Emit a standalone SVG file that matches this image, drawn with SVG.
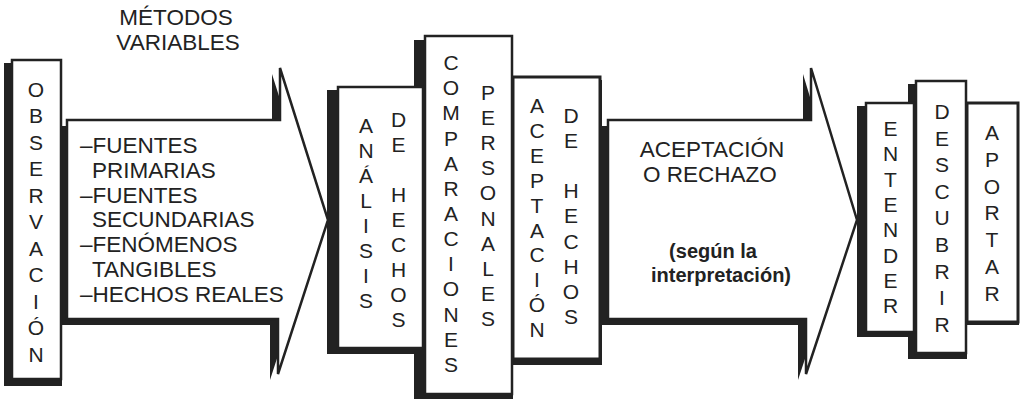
<svg xmlns="http://www.w3.org/2000/svg" width="1023" height="402" viewBox="0 0 1023 402">
<style>
.box{fill:#fff;stroke:#222;stroke-width:2.5}
.sh{fill:#222}
.col{font-family:"Liberation Sans",Arial,sans-serif;font-size:21px;fill:#222;text-anchor:middle}
.lbl{font-family:"Liberation Sans",Arial,sans-serif;font-size:22.5px;fill:#222}
.bld{font-family:"Liberation Sans",Arial,sans-serif;font-size:20px;font-weight:bold;fill:#222;text-anchor:middle}
</style>
<defs>
<polygon id="arrow1shape" points="67,120 280,120 280,68 328,220 278,374 278,319 67,319"/>
<polygon id="arrow2shape" points="608,120 811,120 811,68 857,220 806,374 806,319 608,319"/>
</defs>
<rect width="1023" height="402" fill="#fff"/>

<g id="heading">
<text class="lbl" x="176" y="25" text-anchor="middle">MÉTODOS</text>
<text class="lbl" x="178" y="50" text-anchor="middle">VARIABLES</text>
</g>

<g id="connectors">
<g id="arrow1">
<use href="#arrow1shape" class="sh" transform="translate(-8,6)"/>
<use href="#arrow1shape" class="box"/>
<text class="lbl"><tspan x="80" y="153">–FUENTES</tspan><tspan x="92" y="177.8">PRIMARIAS</tspan><tspan x="80" y="202.6">–FUENTES</tspan><tspan x="92" y="227.4">SECUNDARIAS</tspan><tspan x="80" y="252.2">–FENÓMENOS</tspan><tspan x="92" y="277">TANGIBLES</tspan><tspan x="80" y="301.8">–HECHOS REALES</tspan></text>
</g>
<g id="arrow2">
<use href="#arrow2shape" class="sh" transform="translate(-8,6)"/>
<use href="#arrow2shape" class="box"/>
<text class="lbl" x="712" y="157" text-anchor="middle">ACEPTACIÓN</text>
<text class="lbl" x="710" y="182" text-anchor="middle">O RECHAZO</text>
<text class="bld" x="713" y="258">(según la</text>
<text class="bld" x="721" y="282">interpretación)</text>
</g>
</g>

<g id="observacion">
<rect class="sh" x="4" y="63" width="58" height="323"/>
<rect class="box" x="12" y="60" width="49" height="319"/>
<text class="col"><tspan x="36" y="96.5">O</tspan><tspan x="36" y="123">B</tspan><tspan x="36" y="149.6">S</tspan><tspan x="36" y="176.1">E</tspan><tspan x="36" y="202.7">R</tspan><tspan x="36" y="229.2">V</tspan><tspan x="36" y="255.8">A</tspan><tspan x="36" y="282.3">C</tspan><tspan x="36" y="308.9">I</tspan><tspan x="36" y="335.4">Ó</tspan><tspan x="36" y="362">N</tspan></text>
</g>

<g id="aceptacion-hechos">
<rect class="sh" x="503" y="80" width="99" height="285"/>
<rect class="box" x="513" y="77" width="87" height="282" style="stroke-width:3"/>
<text class="col"><tspan x="537" y="113">A</tspan><tspan x="537" y="137.9">C</tspan><tspan x="537" y="162.8">E</tspan><tspan x="537" y="187.7">P</tspan><tspan x="537" y="212.6">T</tspan><tspan x="537" y="237.5">A</tspan><tspan x="537" y="262.4">C</tspan><tspan x="537" y="287.3">I</tspan><tspan x="537" y="312.2">Ó</tspan><tspan x="537" y="337.1">N</tspan></text>
<text class="col"><tspan x="571" y="123">D</tspan><tspan x="571" y="148.1">E</tspan><tspan x="571" y="198.3">H</tspan><tspan x="571" y="223.4">E</tspan><tspan x="571" y="248.5">C</tspan><tspan x="571" y="273.6">H</tspan><tspan x="571" y="298.7">O</tspan><tspan x="571" y="323.8">S</tspan></text>
</g>

<g id="comparaciones">
<rect class="sh" x="414" y="40" width="99" height="359"/>
<rect class="box" x="425" y="36" width="87" height="358"/>
<text class="col"><tspan x="451" y="70">C</tspan><tspan x="451" y="95.2">O</tspan><tspan x="451" y="120.3">M</tspan><tspan x="451" y="145.5">P</tspan><tspan x="451" y="170.6">A</tspan><tspan x="451" y="195.8">R</tspan><tspan x="451" y="220.9">A</tspan><tspan x="451" y="246.1">C</tspan><tspan x="451" y="271.2">I</tspan><tspan x="451" y="296.4">O</tspan><tspan x="451" y="321.5">N</tspan><tspan x="451" y="346.7">E</tspan><tspan x="451" y="371.8">S</tspan></text>
<text class="col"><tspan x="488" y="100">P</tspan><tspan x="488" y="125.1">E</tspan><tspan x="488" y="150.2">R</tspan><tspan x="488" y="175.3">S</tspan><tspan x="488" y="200.4">O</tspan><tspan x="488" y="225.5">N</tspan><tspan x="488" y="250.6">A</tspan><tspan x="488" y="275.7">L</tspan><tspan x="488" y="300.8">E</tspan><tspan x="488" y="325.9">S</tspan></text>
</g>

<g id="analisis-hechos">
<rect class="sh" x="327" y="90" width="97" height="264"/>
<rect class="box" x="338" y="87" width="85" height="261"/>
<text class="col"><tspan x="366" y="133">A</tspan><tspan x="366" y="158">N</tspan><tspan x="366" y="183">Á</tspan><tspan x="366" y="208">L</tspan><tspan x="366" y="233">I</tspan><tspan x="366" y="258">S</tspan><tspan x="366" y="283">I</tspan><tspan x="366" y="308">S</tspan></text>
<text class="col"><tspan x="398.5" y="127">D</tspan><tspan x="398.5" y="152">E</tspan><tspan x="398.5" y="202">H</tspan><tspan x="398.5" y="227">E</tspan><tspan x="398.5" y="252">C</tspan><tspan x="398.5" y="277">H</tspan><tspan x="398.5" y="302">O</tspan><tspan x="398.5" y="327">S</tspan></text>
</g>

<g id="aportar">
<rect class="sh" x="958" y="106" width="61" height="219"/>
<rect class="box" x="967" y="103" width="51" height="219" style="stroke-width:3"/>
<text class="col"><tspan x="992" y="140">A</tspan><tspan x="992" y="166.8">P</tspan><tspan x="992" y="193.6">O</tspan><tspan x="992" y="220.4">R</tspan><tspan x="992" y="247.2">T</tspan><tspan x="992" y="274">A</tspan><tspan x="992" y="300.8">R</tspan></text>
</g>

<g id="descubrir">
<rect class="sh" x="908" y="84" width="59" height="275"/>
<rect class="box" x="916" y="81" width="50" height="272"/>
<text class="col"><tspan x="942" y="119">D</tspan><tspan x="942" y="145.6">E</tspan><tspan x="942" y="172.2">S</tspan><tspan x="942" y="198.8">C</tspan><tspan x="942" y="225.4">U</tspan><tspan x="942" y="252">B</tspan><tspan x="942" y="278.6">R</tspan><tspan x="942" y="305.2">I</tspan><tspan x="942" y="331.8">R</tspan></text>
</g>

<g id="entender">
<rect class="sh" x="857" y="106" width="58" height="231"/>
<rect class="box" x="866" y="103" width="48" height="229"/>
<text class="col"><tspan x="890.5" y="136">E</tspan><tspan x="890.5" y="161.3">N</tspan><tspan x="890.5" y="186.6">T</tspan><tspan x="890.5" y="211.9">E</tspan><tspan x="890.5" y="237.2">N</tspan><tspan x="890.5" y="262.5">D</tspan><tspan x="890.5" y="287.8">E</tspan><tspan x="890.5" y="313.1">R</tspan></text>
</g>
</svg>
